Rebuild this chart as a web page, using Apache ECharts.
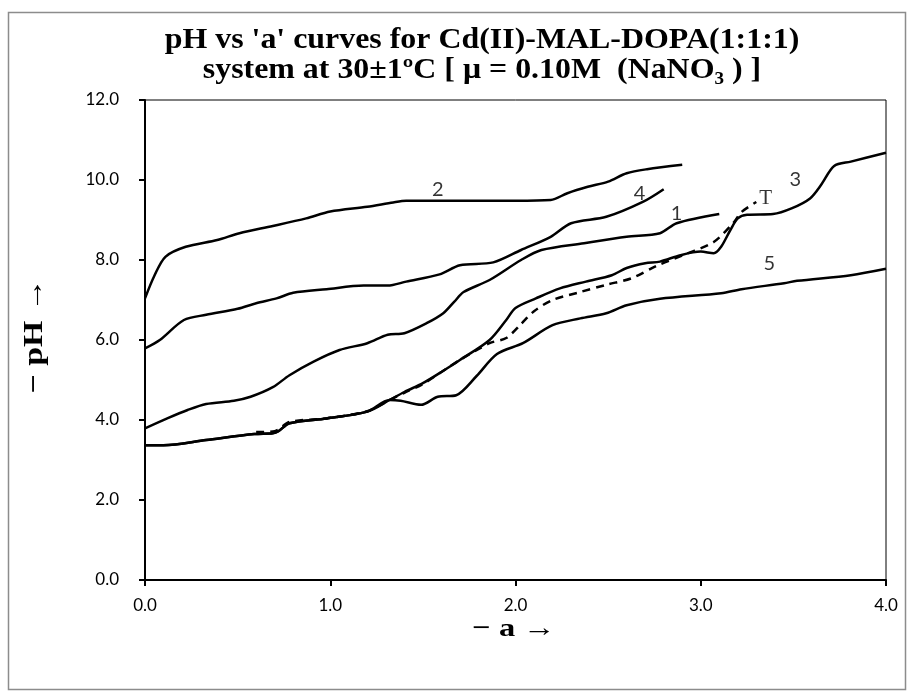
<!DOCTYPE html>
<html>
<head>
<meta charset="utf-8">
<script src="https://cdn.jsdelivr.net/npm/echarts@6/dist/echarts.min.js"></script>
<style>
html,body{margin:0;padding:0;background:#fff;}
#chart{width:907px;height:691px;}
</style>
</head>
<body>
<div id="chart"></div>
<script>
// ---- data ----
const xTicks = [0, 1, 2, 3, 4];
const yTicks = [0, 2, 4, 6, 8, 10, 12];

const c1A  = [0, 0.12, 0.23, 0.33, 0.48, 0.57, 0.69, 0.78, 0.91, 1.05, 1.2, 1.31, 1.4, 1.52, 1.61, 1.67, 1.72, 1.86, 2.03, 2.14, 2.37, 2.6, 2.78, 2.87, 3.1];
const c1PH = [3.79, 4.04, 4.25, 4.4, 4.48, 4.58, 4.82, 5.12, 5.46, 5.75, 5.92, 6.13, 6.17, 6.42, 6.67, 6.96, 7.2, 7.5, 8.0, 8.25, 8.42, 8.58, 8.67, 8.92, 9.15];

const c2A  = [0, 0.05, 0.11, 0.22, 0.39, 0.51, 0.69, 0.87, 1.0, 1.2, 1.34, 1.41, 2.0, 2.19, 2.28, 2.39, 2.5, 2.6, 2.71, 2.9];
const c2PH = [7.04, 7.6, 8.08, 8.33, 8.5, 8.67, 8.85, 9.04, 9.21, 9.33, 9.44, 9.48, 9.48, 9.5, 9.67, 9.83, 9.96, 10.17, 10.27, 10.38];

const c3A  = [0, 0.1, 0.33, 0.59, 0.69, 0.72, 0.78, 0.98, 1.2, 1.32, 1.4, 1.5, 1.6, 1.7, 1.86, 1.95, 2.0, 2.11, 2.24, 2.38, 2.52, 2.6, 2.7, 2.78, 2.89, 3.0, 3.07, 3.11, 3.16, 3.2, 3.25, 3.39, 3.49, 3.59, 3.65, 3.72, 3.81, 4.0];
const c3PH = [3.37, 3.37, 3.5, 3.65, 3.67, 3.72, 3.92, 4.04, 4.21, 4.5, 4.7, 4.92, 5.2, 5.5, 6.0, 6.5, 6.8, 7.04, 7.29, 7.46, 7.62, 7.8, 7.92, 7.96, 8.12, 8.21, 8.17, 8.33, 8.75, 9.04, 9.13, 9.15, 9.29, 9.54, 9.88, 10.35, 10.46, 10.68];

const c4A  = [0, 0.08, 0.21, 0.33, 0.5, 0.6, 0.71, 0.8, 0.98, 1.18, 1.31, 1.41, 1.59, 1.7, 1.88, 2.03, 2.19, 2.3, 2.49, 2.69, 2.8];
const c4PH = [5.79, 6.0, 6.5, 6.63, 6.78, 6.92, 7.04, 7.18, 7.27, 7.36, 7.36, 7.46, 7.64, 7.87, 7.94, 8.25, 8.58, 8.92, 9.08, 9.46, 9.77];

const c5A  = [0, 0.1, 0.33, 0.59, 0.69, 0.72, 0.78, 0.98, 1.2, 1.32, 1.38, 1.49, 1.58, 1.68, 1.79, 1.9, 2.04, 2.2, 2.35, 2.49, 2.6, 2.78, 3.11, 3.22, 3.45, 3.52, 3.81, 4.0];
const c5PH = [3.37, 3.37, 3.5, 3.65, 3.67, 3.72, 3.92, 4.04, 4.21, 4.5, 4.48, 4.38, 4.58, 4.62, 5.1, 5.65, 5.92, 6.37, 6.54, 6.67, 6.87, 7.03, 7.17, 7.27, 7.42, 7.48, 7.62, 7.78];

const cTA  = [0.6, 0.7, 0.78, 0.98, 1.2, 1.32, 1.4, 1.5, 1.6, 1.7, 1.86, 1.95, 2.03, 2.1, 2.2, 2.35, 2.49, 2.63, 2.76, 2.92, 3.07, 3.18, 3.22, 3.3];
const cTPH = [3.7, 3.72, 3.95, 4.04, 4.22, 4.5, 4.68, 4.9, 5.2, 5.5, 5.92, 6.05, 6.4, 6.72, 7.0, 7.2, 7.38, 7.55, 7.85, 8.15, 8.45, 8.95, 9.2, 9.45];

const curveNames  = ['1', '2', '3', '4', '5'];
const labelA  = [2.87, 1.58, 3.51, 2.67, 3.37];
const labelPH = [9.17, 9.75, 10.0, 9.67, 7.92];
const tLabelA = 3.35, tLabelPH = 9.55;

// ---- build ----
function pairs(xs, ys){ return xs.map((x,i)=>[x, ys[i]]); }
const solid = [[c1A,c1PH],[c2A,c2PH],[c3A,c3PH],[c4A,c4PH],[c5A,c5PH]];

const series = solid.map((c, i) => ({
  type: 'line', name: 'Curve ' + curveNames[i], data: pairs(c[0], c[1]),
  smooth: 0.3, showSymbol: false, symbol: 'none',
  lineStyle: {color: '#000', width: 2.5}, z: 3
}));
series.push({
  type: 'line', name: 'T', data: pairs(cTA, cTPH),
  smooth: 0.3, showSymbol: false, symbol: 'none',
  lineStyle: {color: '#000', width: 2.5, type: [8, 6]}, z: 3
});
series.push({
  type: 'scatter', symbolSize: 0, silent: true,
  data: labelA.map((a, i) => ({value: [a, labelPH[i]], name: curveNames[i]})),
  label: {show: true, position: 'inside', formatter: p => p.name,
          fontFamily: 'Lato, "Open Sans", sans-serif', fontSize: 20, color: '#000'},
  z: 5
});
series.push({
  type: 'scatter', symbolSize: 0, silent: true,
  data: [{value: [tLabelA, tLabelPH], name: 'T'}],
  label: {show: true, position: 'inside', formatter: 'T',
          fontFamily: '"Liberation Serif", serif', fontSize: 21, color: '#000'},
  z: 5
});

const chart = echarts.init(document.getElementById('chart'), null, {renderer: 'canvas'});
const tickFont = 'Lato, "Open Sans", sans-serif';
const serifBold = '"Liberation Serif", "Times New Roman", serif';
chart.setOption({
  animation: false,
  backgroundColor: '#fff',
  grid: {left: 145, top: 100, right: 21, bottom: 111, show: true, borderColor: '#000', borderWidth: 1},
  xAxis: {
    type: 'value', min: xTicks[0], max: xTicks[xTicks.length-1], interval: 1,
    axisLine: {show: true, onZero: false, lineStyle: {color: '#000', width: 2}},
    axisTick: {show: true, inside: false, length: 6, lineStyle: {color: '#000', width: 2}},
    axisLabel: {formatter: v => v.toFixed(1), color: '#000', fontSize: 17, fontFamily: tickFont, margin: 17},
    splitLine: {show: false}
  },
  yAxis: {
    type: 'value', min: yTicks[0], max: yTicks[yTicks.length-1], interval: 2,
    axisLine: {show: true, onZero: false, lineStyle: {color: '#000', width: 2}},
    axisTick: {show: true, inside: false, length: 6, lineStyle: {color: '#000', width: 2}},
    axisLabel: {formatter: v => v.toFixed(1), color: '#000', fontSize: 17, fontFamily: tickFont, margin: 26},
    splitLine: {show: false}
  },
  graphic: [
    {type: 'rect', shape: {x: 8.5, y: 12.5, width: 897, height: 677}, style: {fill: 'none', stroke: '#8c8c8c', lineWidth: 1.5}, z: -1},
    {type: 'text', x: 482, y: 41, scaleX: 1.1, style: {text: "pH vs 'a' curves for Cd(II)-MAL-DOPA(1:1:1)", font: 'bold 29px ' + serifBold, fill: '#000', textAlign: 'center', textVerticalAlign: 'middle'}},
    {type: 'text', x: 482, y: 71, scaleX: 1.1, style: {text: 'system at 30\u00b11\u00baC [ \u03bc = 0.10M  (NaNO\u2083 ) ]', font: 'bold 29px ' + serifBold, fill: '#000', textAlign: 'center', textVerticalAlign: 'middle'}},
    {type: 'text', x: 514, y: 629, scaleX: 1.25, style: {text: '\u2212 a \u2192', font: 'bold 26px ' + serifBold, fill: '#000', textAlign: 'center', textVerticalAlign: 'middle'}},
    {type: 'text', x: 35, y: 336, rotation: Math.PI/2, scaleX: 1.25, style: {text: '\u2212 pH \u2192', font: 'bold 27px ' + serifBold, fill: '#000', textAlign: 'center', textVerticalAlign: 'middle'}}
  ],
  series: series
});
</script>
</body>
</html>
